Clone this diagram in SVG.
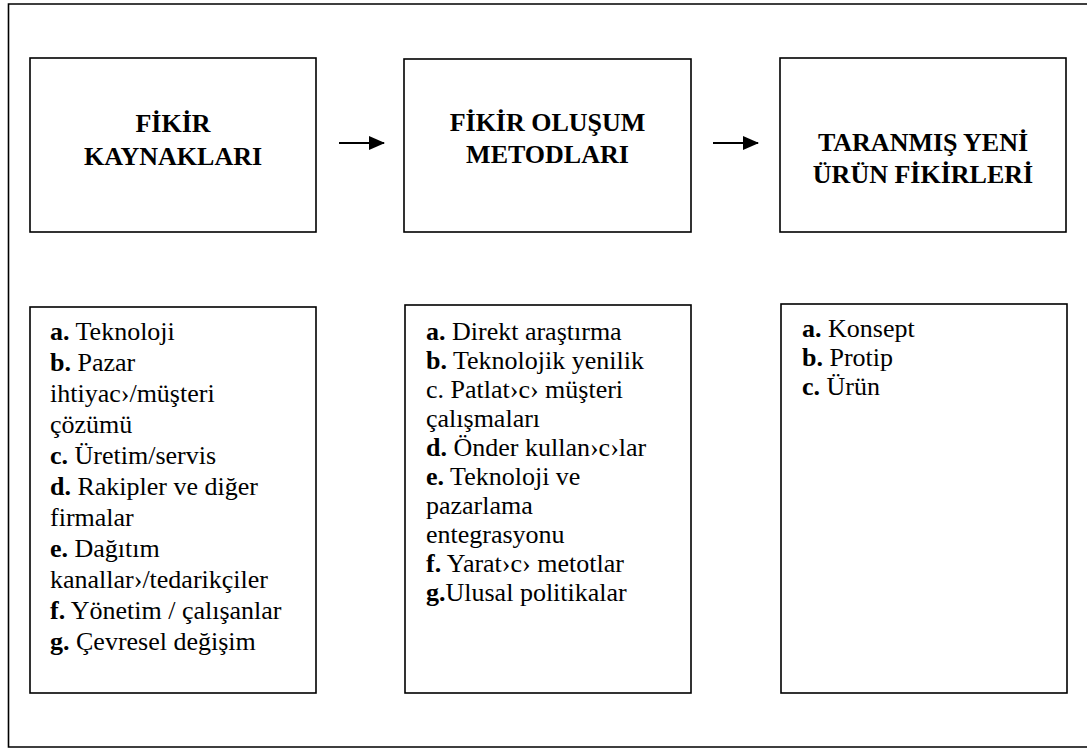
<svg xmlns="http://www.w3.org/2000/svg" width="1087" height="748" viewBox="0 0 1087 748">
  <style>
    .box { fill: #ffffff; stroke: #000000; stroke-width: 1.6; }
    .frame { fill: none; stroke: #000000; stroke-width: 1.6; }
    .title { font-family: 'Liberation Serif', 'Times New Roman', serif; font-size: 26px; font-weight: bold; text-anchor: middle; fill: #000000; }
    .item { font-family: 'Liberation Serif', 'Times New Roman', serif; font-size: 26px; fill: #000000; }
    .k { font-weight: bold; }
    .conn { stroke: #000000; stroke-width: 2; fill: none; }
  </style>
  <defs>
    <marker id="arrowhead" markerWidth="16" markerHeight="14" refX="15" refY="7" orient="auto" markerUnits="userSpaceOnUse">
      <path d="M0,0 L16,7 L0,14 Z" fill="#000000"/>
    </marker>
  </defs>

  <rect width="1087" height="748" fill="#ffffff"/>

  <!-- outer page frame (right side runs off the page) -->
  <path class="frame" d="M1090,4 L8.5,4 L8.5,747 L1090,747"/>

  <!-- heading row -->
  <g id="fikir-kaynaklari">
    <rect class="box" x="30" y="58" width="286" height="174"/>
    <text class="title" x="173" y="132">FİKİR</text>
    <text class="title" x="173" y="165">KAYNAKLARI</text>
  </g>
  <g id="fikir-olusum-metodlari">
    <rect class="box" x="404" y="59" width="287" height="173"/>
    <text class="title" x="547.5" y="131">FİKİR OLUŞUM</text>
    <text class="title" x="547.5" y="163">METODLARI</text>
  </g>
  <g id="taranmis-urun-fikirleri">
    <rect class="box" x="780" y="58" width="286" height="174"/>
    <text class="title" x="923" y="151">TARANMIŞ YENİ</text>
    <text class="title" x="923" y="183">ÜRÜN FİKİRLERİ</text>
  </g>

  <!-- detail lists -->
  <g id="kaynaklar-listesi">
    <rect class="box" x="30" y="307" width="286" height="386"/>
    <text class="item" x="50" y="340"><tspan class="k">a.</tspan> Teknoloji</text>
    <text class="item" x="50" y="371"><tspan class="k">b.</tspan> Pazar</text>
    <text class="item" x="50" y="402">ihtiyac›/müşteri</text>
    <text class="item" x="50" y="433">çözümü</text>
    <text class="item" x="50" y="464"><tspan class="k">c.</tspan> Üretim/servis</text>
    <text class="item" x="50" y="495"><tspan class="k">d.</tspan> Rakipler ve diğer</text>
    <text class="item" x="50" y="526">firmalar</text>
    <text class="item" x="50" y="557"><tspan class="k">e.</tspan> Dağıtım</text>
    <text class="item" x="50" y="588">kanallar›/tedarikçiler</text>
    <text class="item" x="50" y="619"><tspan class="k">f.</tspan> Yönetim / çalışanlar</text>
    <text class="item" x="50" y="650"><tspan class="k">g.</tspan> Çevresel değişim</text>
  </g>
  <g id="metodlar-listesi">
    <rect class="box" x="405" y="305" width="286" height="388"/>
    <text class="item" x="426" y="340"><tspan class="k">a.</tspan> Direkt araştırma</text>
    <text class="item" x="426" y="369"><tspan class="k">b.</tspan> Teknolojik yenilik</text>
    <text class="item" x="426" y="398">c. Patlat›c› müşteri</text>
    <text class="item" x="426" y="427">çalışmaları</text>
    <text class="item" x="426" y="456"><tspan class="k">d.</tspan> Önder kullan›c›lar</text>
    <text class="item" x="426" y="485"><tspan class="k">e.</tspan> Teknoloji ve</text>
    <text class="item" x="426" y="514">pazarlama</text>
    <text class="item" x="426" y="543">entegrasyonu</text>
    <text class="item" x="426" y="572"><tspan class="k">f.</tspan> Yarat›c› metotlar</text>
    <text class="item" x="426" y="601"><tspan class="k">g.</tspan>Ulusal politikalar</text>
  </g>
  <g id="urun-listesi">
    <rect class="box" x="781" y="304" width="286" height="389"/>
    <text class="item" x="802" y="337"><tspan class="k">a.</tspan> Konsept</text>
    <text class="item" x="802" y="366"><tspan class="k">b.</tspan> Protip</text>
    <text class="item" x="802" y="395"><tspan class="k">c.</tspan> Ürün</text>
  </g>

  <!-- flow arrows between the heading boxes -->
  <g id="connectors">
    <line class="conn" x1="339" y1="143" x2="384" y2="143" marker-end="url(#arrowhead)"/>
    <line class="conn" x1="713" y1="143" x2="758" y2="143" marker-end="url(#arrowhead)"/>
  </g>
</svg>
